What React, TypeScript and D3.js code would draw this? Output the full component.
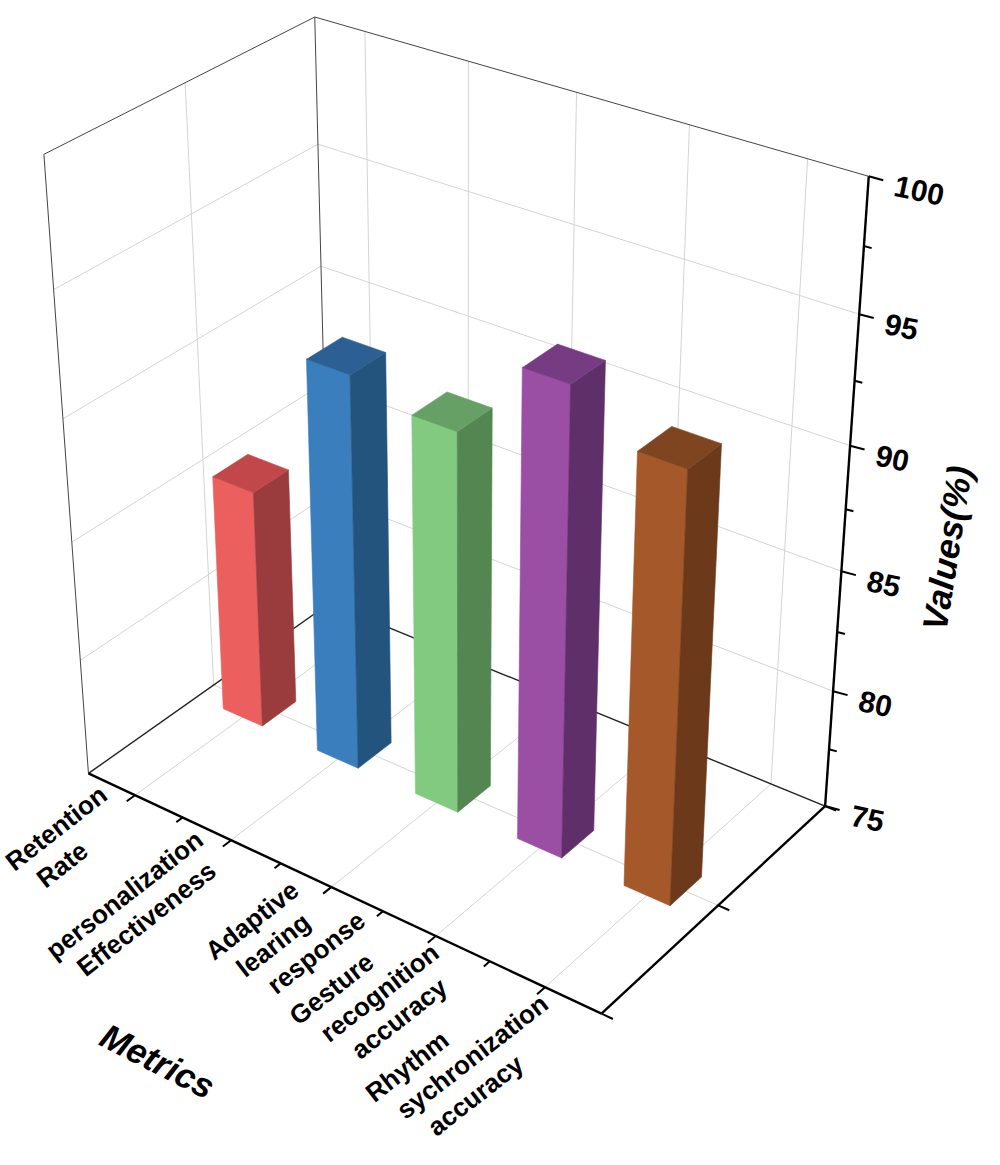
import React, { useEffect, useRef } from "react";
import * as d3 from "d3";

// --- Data
const categories = [
  ["Retention", "Rate"],
  ["personalization", "Effectiveness"],
  ["Adaptive", "learing", "response"],
  ["Gesture", "recognition", "accuracy"],
  ["Rhythm", "sychronization", "accuracy"],
];
const values = [85.2, 91.5, 90.8, 94.1, 92.5];
const zTicks = [75, 80, 85, 90, 95, 100];
const zMinorTicks = [77.5, 82.5, 87.5, 92.5, 97.5];
const xMinorTicks = [1.5, 2.5, 3.5, 4.5];
const depthTicks = [0.5, 1, 1.5];

// --- Style
const barColors = [
  { front: "#ec5f5f", side: "#9a3b3d", top: "#c2474a" },
  { front: "#3a7ebd", side: "#22547e", top: "#2c6094" },
  { front: "#83ca81", side: "#548652", top: "#66a064" },
  { front: "#9a4ea4", side: "#5f2f69", top: "#773b84" },
  { front: "#a5592a", side: "#6c3a1a", top: "#7f4521" },
];

// Screen positions of the plot box corners and a few ticks, used to fit the camera
const calibration: [number[], number[]][] = [
  [[0, 0, 0], [88.5, 775]],
  [[1, 0, 0], [602, 1015]],
  [[1, 1, 0], [826, 803]],
  [[0, 1, 0], [327, 604]],
  [[0, 0, 1], [40.5, 154]],
  [[0, 1, 1], [315, 15]],
  [[1, 1, 1], [868, 177]],
  [[0, 0, 0.2], [84.2, 660]],
  [[0, 0, 0.4], [74.9, 540]],
  [[0, 0, 0.6], [65.2, 418]],
  [[0, 0, 0.8], [53.9, 290]],
  [[0, 1, 0.8], [318, 145]],
  [[0, 1, 0.6], [321, 267]],
  [[1, 1, 0.8], [860, 315]],
  [[1, 1, 0.6], [848, 447]],
  [[1, 1, 0.4], [843, 572]],
  [[1, 0.5, 0], [722, 904]],
  [[0.1, 0, 0], [133, 796]],
  [[0.3, 0, 0], [230, 841]],
  [[0.7, 0, 0], [432, 935.5]],
  [[0.9, 0, 0], [543, 987]],
];

function solve(M: number[][], r: number[]) {
  const n = r.length;
  const A = M.map((row, i) => [...row, r[i]]);
  for (let c = 0; c < n; c++) {
    let p = c;
    for (let k = c + 1; k < n; k++) if (Math.abs(A[k][c]) > Math.abs(A[p][c])) p = k;
    [A[c], A[p]] = [A[p], A[c]];
    for (let k = c + 1; k < n; k++) {
      const f = A[k][c] / A[c][c];
      for (let j = c; j <= n; j++) A[k][j] -= f * A[c][j];
    }
  }
  const x = new Array(n).fill(0);
  for (let i = n - 1; i >= 0; i--) {
    let s = A[i][n];
    for (let j = i + 1; j < n; j++) s -= A[i][j] * x[j];
    x[i] = s / A[i][i];
  }
  return x;
}

// least squares DLT camera (3x4, p34 = 1)
function fitCamera(pairs: [number[], number[]][]) {
  const rows: number[][] = [];
  const rhs: number[] = [];
  for (const [[X, Y, Z], [u, v]] of pairs) {
    rows.push([X, Y, Z, 1, 0, 0, 0, 0, -u * X, -u * Y, -u * Z]);
    rhs.push(u);
    rows.push([0, 0, 0, 0, X, Y, Z, 1, -v * X, -v * Y, -v * Z]);
    rhs.push(v);
  }
  const n = 11;
  const N = Array.from({ length: n }, () => new Array(n).fill(0));
  const r = new Array(n).fill(0);
  rows.forEach((row, k) => {
    for (let i = 0; i < n; i++) {
      r[i] += row[i] * rhs[k];
      for (let j = 0; j < n; j++) N[i][j] += row[i] * row[j];
    }
  });
  const p = solve(N, r);
  return (X: number, Y: number, Z: number): [number, number] => {
    const w = p[8] * X + p[9] * Y + p[10] * Z + 1;
    return [
      (p[0] * X + p[1] * Y + p[2] * Z + p[3]) / w,
      (p[4] * X + p[5] * Y + p[6] * Z + p[7]) / w,
    ];
  };
}

const App: React.FC = () => {
  const ref = useRef<SVGSVGElement | null>(null);

  useEffect(() => {
    if (!ref.current) return;
    document.body.style.margin = "0";

    const width = 1000;
    const height = 1165;
    const font = "'Liberation Sans', Arial, Helvetica, sans-serif";

    const proj = fitCamera(calibration);

    // data -> box fraction scales
    const x = d3.scaleLinear().domain([0.5, 5.5]).range([0, 1]);
    const y = d3.scaleLinear().domain([0.5, 1.5]).range([0, 1]);
    const z = d3.scaleLinear().domain([75, 100]).range([0, 1]);

    const svg = d3.select(ref.current);
    svg.selectAll("*").remove();
    svg.attr("width", width).attr("height", height).style("font-family", font);

    const seg = (a: number[], b: number[]) => {
      const p = proj(a[0], a[1], a[2]);
      const q = proj(b[0], b[1], b[2]);
      return `M${p[0]},${p[1]}L${q[0]},${q[1]}`;
    };
    const poly = (pts: number[][]) =>
      "M" + pts.map((t) => proj(t[0], t[1], t[2]).join(",")).join("L") + "Z";

    const grid = svg.append("g").attr("fill", "none").attr("stroke", "#d4d4d4").attr("stroke-width", 1);
    const majorZ = zTicks.slice(1, -1);

    // left wall (X = 0)
    majorZ.forEach((v) => grid.append("path").attr("d", seg([0, 0, z(v)], [0, 1, z(v)])));
    grid.append("path").attr("d", seg([0, y(1), 0], [0, y(1), 1]));
    // right wall (Y = 1)
    majorZ.forEach((v) => grid.append("path").attr("d", seg([0, 1, z(v)], [1, 1, z(v)])));
    categories.forEach((_, i) => grid.append("path").attr("d", seg([x(i + 1), 1, 0], [x(i + 1), 1, 1])));
    // floor
    categories.forEach((_, i) => grid.append("path").attr("d", seg([x(i + 1), 0, 0], [x(i + 1), 1, 0])));
    grid.append("path").attr("d", seg([0, y(1), 0], [1, y(1), 0]));

    // box frame
    const frame = svg.append("g").attr("fill", "none").attr("stroke", "#444").attr("stroke-width", 1);
    frame.append("path").attr("d", seg([0, 0, 0], [0, 0, 1]));
    frame.append("path").attr("d", seg([0, 1, 0], [0, 1, 1]));
    frame.append("path").attr("d", seg([0, 0, 1], [0, 1, 1]));
    frame.append("path").attr("d", seg([0, 1, 1], [1, 1, 1]));
    const floorEdge = svg.append("g").attr("fill", "none").attr("stroke", "#222").attr("stroke-width", 1.4);
    floorEdge.append("path").attr("d", seg([0, 0, 0], [0, 1, 0]));
    floorEdge.append("path").attr("d", seg([0, 1, 0], [1, 1, 0]));

    // bars, back to front
    const halfW = 0.21;
    const halfD = 0.07;
    const bars = svg.append("g");
    values.forEach((v, i) => {
      const x0 = x(i + 1 - halfW);
      const x1 = x(i + 1 + halfW);
      const y0 = y(1 - halfD);
      const y1 = y(1 + halfD);
      const h = z(v);
      const c = barColors[i];
      const g = bars.append("g").attr("stroke-width", 0.6).attr("stroke-linejoin", "round");
      g.append("path")
        .attr("d", poly([[x0, y0, 0], [x1, y0, 0], [x1, y0, h], [x0, y0, h]]))
        .attr("fill", c.front)
        .attr("stroke", c.front);
      g.append("path")
        .attr("d", poly([[x1, y0, 0], [x1, y1, 0], [x1, y1, h], [x1, y0, h]]))
        .attr("fill", c.side)
        .attr("stroke", c.side);
      g.append("path")
        .attr("d", poly([[x0, y0, h], [x1, y0, h], [x1, y1, h], [x0, y1, h]]))
        .attr("fill", c.top)
        .attr("stroke", c.top);
    });

    // axes
    const axes = svg.append("g").attr("fill", "none").attr("stroke", "#000").attr("stroke-width", 2.4);
    axes.append("path").attr("d", seg([0, 0, 0], [1, 0, 0]));
    axes.append("path").attr("d", seg([1, 0, 0], [1, 1, 0]));
    axes.append("path").attr("d", seg([1, 1, 0], [1, 1, 1]));

    const ticks = svg.append("g").attr("fill", "none").attr("stroke", "#000").attr("stroke-width", 2);
    categories.forEach((_, i) => ticks.append("path").attr("d", seg([x(i + 1), 0, 0], [x(i + 1), -0.032, 0])));
    xMinorTicks.forEach((t) => ticks.append("path").attr("d", seg([x(t), 0, 0], [x(t), -0.024, 0])));
    depthTicks.forEach((t) => ticks.append("path").attr("d", seg([1, y(t), 0], [1.02, y(t), 0])));

    const zDir = [0.966, 0.26];
    const zTick = (v: number, len: number) => {
      const p = proj(1, 1, z(v));
      ticks.append("path").attr("d", `M${p[0]},${p[1]}l${zDir[0] * len},${zDir[1] * len}`);
      return p;
    };
    zMinorTicks.forEach((v) => zTick(v, 8));
    zTicks.forEach((v) => {
      const p = zTick(v, 15);
      svg
        .append("text")
        .attr("transform", `translate(${p[0] + 26},${p[1] + 9}) rotate(12)`)
        .attr("dominant-baseline", "central")
        .style("font-size", "30px")
        .style("font-weight", "bold")
        .text(v);
    });

    // category labels: lines left aligned, block right edge hung at the tick
    const angle = -38;
    const b = [Math.cos((angle * Math.PI) / 180), Math.sin((angle * Math.PI) / 180)];
    const stack = [31, 17];
    categories.forEach((lines, i) => {
      const t = proj(x(i + 1), 0, 0);
      const anchor = [t[0] - 26, t[1] + 3];
      const nodes = lines.map((s) =>
        svg
          .append("text")
          .style("font-size", "26px")
          .style("font-weight", "bold")
          .text(s)
      );
      const wMax = d3.max(nodes, (n) => (n.node() as SVGTextElement).getComputedTextLength()) ?? 0;
      const sx = anchor[0] - wMax * b[0];
      const sy = anchor[1] - wMax * b[1];
      nodes.forEach((n, k) =>
        n.attr("transform", `translate(${sx + k * stack[0]},${sy + k * stack[1]}) rotate(${angle})`)
      );
    });

    // axis titles
    svg
      .append("text")
      .attr("transform", "translate(152,1072) rotate(27)")
      .attr("text-anchor", "middle")
      .style("font-size", "35px")
      .style("font-weight", "bold")
      .style("font-style", "italic")
      .text("Metrics");

    svg
      .append("text")
      .attr("transform", "translate(947,548) rotate(-81)")
      .attr("text-anchor", "middle")
      .attr("dominant-baseline", "central")
      .style("font-size", "35px")
      .style("font-weight", "bold")
      .style("font-style", "italic")
      .text("Values(%)");

    return () => {
      d3.select(ref.current).selectAll("*").remove();
    };
  }, []);

  return <svg ref={ref} style={{ display: "block" }}></svg>;
};

export default App;
